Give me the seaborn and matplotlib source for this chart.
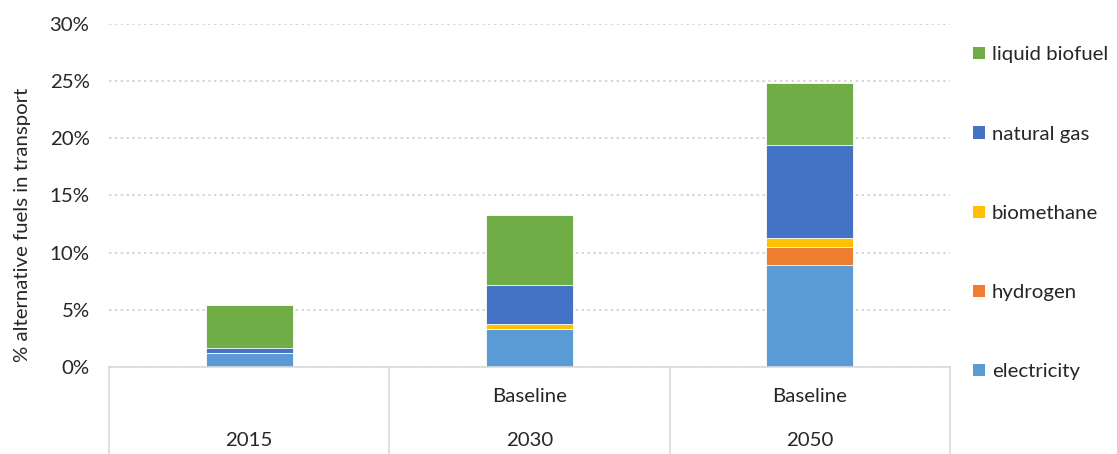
import numpy as np
import pandas as pd
import matplotlib
matplotlib.use("Agg")
import matplotlib.pyplot as plt
import seaborn as sns
from matplotlib.patches import Patch
from matplotlib.lines import Line2D
import matplotlib.transforms as mtransforms

# ---- data ----
years = ["2015", "2030", "2050"]
scenarios = ["", "Baseline", "Baseline"]
fuels = ["electricity", "hydrogen", "biomethane", "natural gas", "liquid biofuel"]
electricity = [1.2, 3.3, 8.9]
hydrogen = [0.0, 0.0, 1.55]
biomethane = [0.0, 0.5, 0.8]
natural_gas = [0.5, 3.35, 8.15]
liquid_biofuel = [3.7, 6.15, 5.4]
colors = ["#5B9BD5", "#ED7D31", "#FFC000", "#4472C4", "#70AD47"]

series = [electricity, hydrogen, biomethane, natural_gas, liquid_biofuel]

sns.set_theme(style="white")
plt.rcParams['font.family'] = ['Lato', 'DejaVu Sans']
FS = 14.7
TXT = "#262626"

fig = plt.figure(figsize=(11.17, 4.54), dpi=100)
ax = fig.add_axes([109/1117, (454-367)/454, (950-109)/1117, (367-23.8)/454])

cats = [f"{y}\n{s}" for y, s in zip(years, scenarios)]
cum = np.cumsum(np.array(series), axis=0)
# draw from top layer down so lower layers overlay
for i in range(len(fuels) - 1, -1, -1):
    df = pd.DataFrame({"cat": cats, "val": cum[i]})
    sns.barplot(data=df, x="cat", y="val", color=colors[i], width=0.31,
                edgecolor="white", linewidth=0.6, ax=ax, saturation=1)

ax.set_ylim(0, 30)
ax.set_xlim(-0.5, 2.5)
ax.set_yticks(np.arange(0, 31, 5))
ax.set_yticklabels([f"{v}%" for v in range(0, 31, 5)], fontsize=FS, color=TXT)
ax.tick_params(axis="y", length=0, pad=14)
ax.yaxis.grid(True, linestyle=(0, (1.5, 2)), color="#D0D0D0", linewidth=1.2)
ax.set_axisbelow(True)
for sp in ["top", "right", "left"]:
    ax.spines[sp].set_visible(False)
ax.spines["bottom"].set_color("#D9D9D9")
ax.spines["bottom"].set_linewidth(1.2)
ax.set_xticks([0, 1, 2])
ax.set_xticklabels(["", "", ""])
ax.tick_params(axis="x", length=0)
ax.set_xlabel("")
ax.set_ylabel("% alternative fuels in transport", fontsize=FS, color=TXT)
ax.yaxis.set_label_coords((31 - 109) / 841, 0.414)

trans = mtransforms.blended_transform_factory(ax.transData, fig.transFigure)
for i, (y, s) in enumerate(zip(years, scenarios)):
    ax.text(i, 1 - 440/454, y, transform=trans, ha="center", va="center",
            fontsize=FS, color=TXT)
    if s:
        ax.text(i, 1 - 396/454, s, transform=trans, ha="center", va="center",
                fontsize=FS, color=TXT)
for xb in [-0.5, 0.5, 1.5, 2.5]:
    ax.add_line(Line2D([xb, xb], [1 - 367/454, 0], transform=trans,
                       color="#D9D9D9", linewidth=1.2, clip_on=False))

handles = [Patch(facecolor=colors[i], edgecolor="none") for i in range(len(fuels) - 1, -1, -1)]
labels = [fuels[i] for i in range(len(fuels) - 1, -1, -1)]
fig.legend(handles, labels, loc="upper left", bbox_to_anchor=(955/1117, 1 - 28/454),
           frameon=False, fontsize=FS, labelspacing=3.05, handlelength=0.55,
           handleheight=0.55, handletextpad=0.35, labelcolor=TXT)

fig.savefig("out.png", dpi=100)
